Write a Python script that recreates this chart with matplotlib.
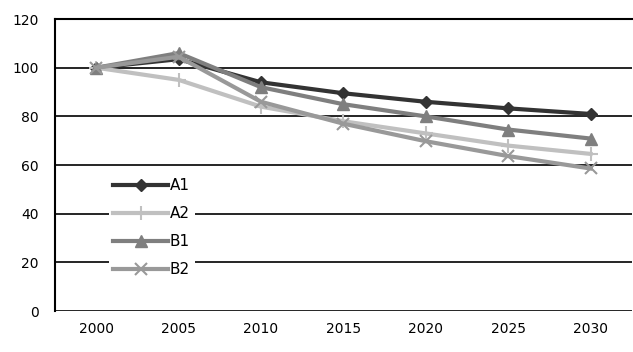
import matplotlib.pyplot as plt

years = ["2000", "2005", "2010", "2015", "2020", "2025", "2030"]
a1 = [100, 103.5, 94, 89.5, 86, 83.3, 81]
a2 = [100, 95, 84, 78, 73, 68, 64.6]
b1 = [100, 106, 92, 85, 80, 74.6, 70.9]
b2 = [100, 104.5, 86, 77, 69.8, 63.7, 58.6]

fig = plt.figure(figsize=(6.33, 3.52), dpi=100)
ax = fig.add_axes([0.087, 0.116, 0.911, 0.83])

x = range(len(years))
ax.plot(x, a1, color="#333333", lw=3, marker="D", ms=6, label="A1")
ax.plot(x, a2, color="#c0c0c0", lw=3, marker="+", ms=10, mew=1.5, label="A2")
ax.plot(x, b1, color="#7f7f7f", lw=3, marker="^", ms=8, label="B1")
ax.plot(x, b2, color="#999999", lw=3, marker="x", ms=9, mew=1.5, label="B2")

ax.set_xlim(-0.5, len(years) - 0.5)
ax.set_ylim(0, 120)
ax.set_yticks(range(0, 121, 20))
ax.set_xticks(list(x))
ax.set_xticklabels(years)
ax.yaxis.grid(True, color="black", lw=1.2)
ax.set_axisbelow(True)
ax.tick_params(axis="y", length=0, labelsize=10, pad=12)
ax.tick_params(axis="x", length=0, labelsize=10, pad=8)
for s in ["left", "top"]:
    ax.spines[s].set_linewidth(1.5)
ax.spines["right"].set_visible(False)
ax.spines["bottom"].set_visible(False)

ax.legend(loc="lower left", bbox_to_anchor=(0.08, 0.075), frameon=True,
          edgecolor="none", facecolor="white", framealpha=1, fontsize=11,
          handlelength=3.6, handletextpad=0.1, labelspacing=0.85, borderpad=0.3)

fig.savefig("out.png", dpi=100)
